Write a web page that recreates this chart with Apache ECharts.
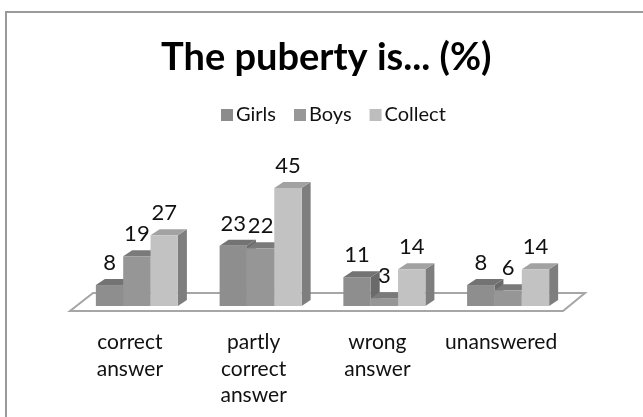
<!DOCTYPE html>
<html>
<head>
<meta charset="utf-8">
<script src="https://cdn.jsdelivr.net/npm/echarts@6/dist/echarts.min.js"></script>
<style>
html,body{margin:0;padding:0;background:#fff;}
#c{width:643px;height:417px;}
</style>
</head>
<body>
<div id="c"></div>
<script>
const categories = ['correct\nanswer', 'partly\ncorrect\nanswer', 'wrong\nanswer', 'unanswered'];
const seriesNames = ['Girls', 'Boys', 'Collect'];
const girls = [8, 23, 11, 8];
const boys = [19, 22, 3, 6];
const collect = [27, 45, 14, 14];
const seriesData = [girls, boys, collect];

const palette = [
  {front: '#8e8e8e', top: '#737373', side: '#6a6a6a', legend: '#8c8c8c'},
  {front: '#969696', top: '#7a7a7a', side: '#707070', legend: '#979797'},
  {front: '#c2c2c2', top: '#a2a2a2', side: '#7e7e7e', legend: '#bdbdbd'}
];

const FONT = 'Lato, "Open Sans", sans-serif';
const DX = 9, DY = 6;

function makeRender(si) {
  return function (params, api) {
    const cat = api.value(0);
    const val = api.value(1);
    const base = api.coord([cat, 0]);
    const topP = api.coord([cat, val]);
    const band = api.size([1, 0])[0];
    const bw = band * 0.221;
    const x0 = base[0] + (si - 1.5) * bw;
    const x1 = x0 + bw;
    const yb = base[1];
    const yt = topP[1];
    const col = palette[si];
    const children = [];
    if (si === 0 && params.dataIndex === 0) {
      const cs = params.coordSys;
      const fy = cs.y + cs.height;
      children.push({
        type: 'polygon',
        shape: {points: [[cs.x - 5, fy + 5], [cs.x + cs.width - 7, fy + 5], [cs.x + cs.width + 15, fy - 13], [cs.x + 18, fy - 13]]},
        style: {fill: '#ffffff', stroke: '#a6a6a6', lineWidth: 2},
        z2: -10
      });
    }
    children.push({
      type: 'polygon',
      shape: {points: [[x1, yt], [x1 + DX, yt - DY], [x1 + DX, yb - DY], [x1, yb]]},
      style: {fill: col.side}
    });
    children.push({
      type: 'polygon',
      shape: {points: [[x0, yt], [x0 + DX, yt - DY], [x1 + DX, yt - DY], [x1, yt]]},
      style: {fill: col.top}
    });
    children.push({
      type: 'rect',
      shape: {x: x0, y: yt, width: bw, height: yb - yt},
      style: {fill: col.front}
    });
    children.push({
      type: 'text',
      style: {
        text: String(val), x: (x0 + x1) / 2, y: yt - 22,
        align: 'center', verticalAlign: 'middle',
        font: '22px ' + FONT, fill: '#111'
      }
    });
    return {type: 'group', children: children};
  };
}

const chart = echarts.init(document.getElementById('c'));
chart.setOption({
  backgroundColor: '#ffffff',
  animation: false,
  title: {
    text: 'The puberty is... (%)',
    left: 156, top: 34,
    textStyle: {fontFamily: FONT, fontWeight: 'bold', fontSize: 38, color: '#000'}
  },
  legend: {
    top: 100, left: 216,
    icon: 'rect', itemWidth: 12, itemHeight: 12, itemGap: 18,
    data: seriesNames.map((n, i) => ({name: n, itemStyle: {color: palette[i].legend}})),
    textStyle: {fontFamily: FONT, fontSize: 20, color: '#111', padding: [0, 0, 0, -2]}
  },
  graphic: [{
    type: 'rect', shape: {x: 6, y: 12, width: 700, height: 500},
    style: {fill: 'none', stroke: '#9a9a9a', lineWidth: 2}, silent: true
  }],
  grid: {left: 75, width: 495, top: 175, height: 131},
  xAxis: {
    type: 'category', data: categories,
    axisLine: {show: false}, axisTick: {show: false},
    axisLabel: {
      margin: 23, interval: 0, fontFamily: FONT, fontSize: 21, color: '#111',
      lineHeight: 26.5, padding: [0, 14, 0, 0]
    }
  },
  yAxis: {type: 'value', min: 0, max: 50, show: false, splitLine: {show: false}},
  series: seriesData.map((d, si) => ({
    type: 'custom', name: seriesNames[si],
    itemStyle: {color: palette[si].legend},
    renderItem: makeRender(si),
    data: d.map((v, i) => [i, v]),
    encode: {x: 0, y: 1}
  }))
});
</script>
</body>
</html>
